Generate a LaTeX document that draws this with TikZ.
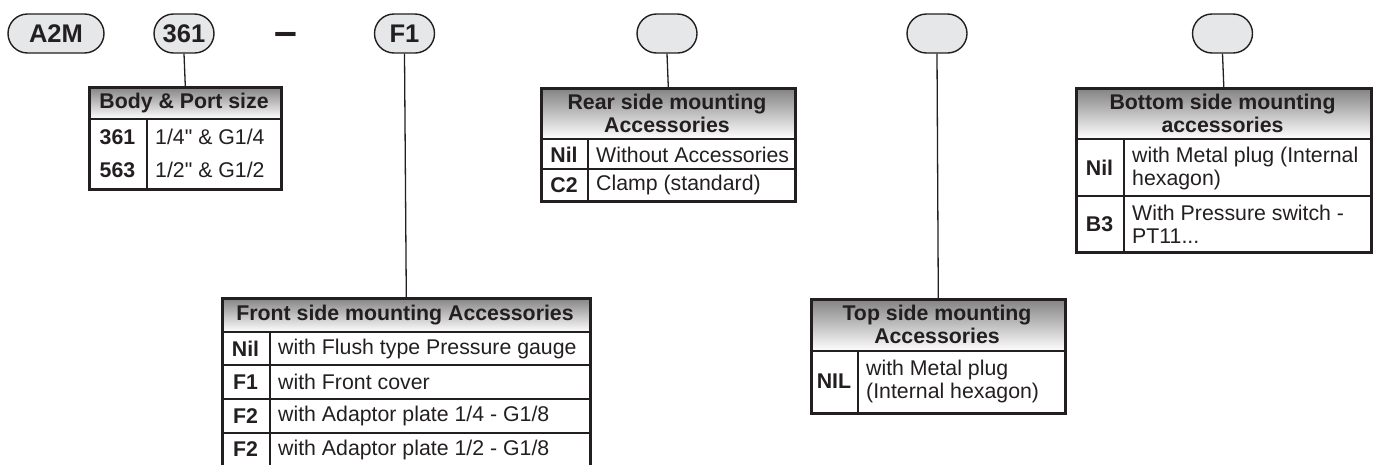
\documentclass[tikz,border=0pt]{standalone}
\usepackage{fontspec}
\setmainfont{Liberation Sans}
\usetikzlibrary{shapes.misc}
\definecolor{ink}{HTML}{231F20}
\definecolor{shade}{HTML}{E6E7E8}
\tikzset{
  pill/.style={draw=ink, fill=shade, rounded rectangle, line width=1.4pt,
    minimum height=39pt, inner sep=0pt, font=\fontsize{25.5}{28}\selectfont\bfseries, text=ink},
  tbl/.style={draw=ink, line width=2.6pt, rectangle, inner sep=0pt, anchor=north west},
  rule/.style={draw=ink, line width=1.3pt},
  conn/.style={draw=ink, line width=1.3pt},
  hdr/.style={font=\fontsize{21.3}{23}\selectfont\bfseries, text=ink, align=center, inner sep=0pt},
  code/.style={font=\fontsize{21.3}{23}\selectfont\bfseries, text=ink, inner sep=0pt},
  desc/.style={font=\fontsize{21.3}{23}\selectfont, text=ink, anchor=west, align=left, inner sep=0pt},
}
\begin{document}
\begin{tikzpicture}[x=1pt,y=-1pt]
\useasboundingbox (0,0) rectangle (1375,464);

% pills
\node[pill, minimum width=96pt] (pA) at (56,33.5) {A2M};
\node[pill, minimum width=60pt] (p361) at (184,33.5) {361};
\node[font=\fontsize{41}{41}\selectfont\bfseries, text=ink, inner sep=0pt, anchor=base] (dash) at (285.5,45) {–};
\node[pill, minimum width=60pt] (pF) at (404.5,33.5) {F1};
\node[pill, minimum width=60pt] (pR) at (667,33.5) {};
\node[pill, minimum width=60pt] (pT) at (937,33.5) {};
\node[pill, minimum width=60pt] (pB) at (1222.5,33.5) {};

% ---- Body & Port size
\fill[shade] (88,86) rectangle (280,119);
\draw[rule] (88,119) -- (280,119);
\draw[rule] (147,119) -- (147,188);
\node[tbl, minimum width=192pt, minimum height=102pt] (body) at (88,86) {};
\node[hdr] (bodyh) at (184,103) {Body \& Port size};
\node[code] (b1c) at (117.5,137) {361};
\node[desc] (b1d) at (155,137) {1/4\textquotedbl{} \& G1/4};
\node[code] (b2c) at (117.5,170) {563};
\node[desc] (b2d) at (155,170) {1/2\textquotedbl{} \& G1/2};

% ---- Rear
\fill[shade] (540,87) rectangle (794,139);
\draw[rule] (540,139) -- (794,139);
\draw[rule] (540,169) -- (794,169);
\draw[rule] (588,139) -- (588,200);
\node[tbl, minimum width=254pt, minimum height=113pt] (rear) at (540,87) {};
\node[hdr] (rearh) at (667,113) {Rear side mounting\\Accessories};
\node[code] (r1c) at (564,154.5) {Nil};
\node[desc] (r1d) at (596,154.5) {Without Accessories};
\node[code] (r2c) at (564,185) {C2};
\node[desc] (r2d) at (596,185) {Clamp (standard)};

% ---- Bottom
\fill[shade] (1075,87) rectangle (1370,139);
\draw[rule] (1075,139) -- (1370,139);
\draw[rule] (1075,196) -- (1370,196);
\draw[rule] (1124,139) -- (1124,251);
\node[tbl, minimum width=295pt, minimum height=164pt] (bot) at (1075,87) {};
\node[hdr] (both) at (1222.5,113) {Bottom side mounting\\accessories};
\node[code] (o1c) at (1099.5,168) {Nil};
\node[desc] (o1d) at (1132,168) {with Metal plug (Internal\\hexagon)};
\node[code] (o2c) at (1099.5,224) {B3};
\node[desc] (o2d) at (1132,224) {With Pressure switch -\\PT11...};

% ---- Front
\fill[shade] (221,297) rectangle (589,332);
\draw[rule] (221,332) -- (589,332);
\draw[rule] (221,365) -- (589,365);
\draw[rule] (221,399) -- (589,399);
\draw[rule] (221,433) -- (589,433);
\draw[rule] (270,332) -- (270,470);
\node[tbl, minimum width=368pt, minimum height=172pt] (front) at (221,297) {};
\node[hdr] (fronth) at (405,315) {Front side mounting Accessories};
\node[code] (f1c) at (245.5,348.5) {Nil};
\node[desc] (f1d) at (278,348.5) {with Flush type Pressure gauge};
\node[code] (f2c) at (245.5,382) {F1};
\node[desc] (f2d) at (278,382) {with Front cover};
\node[code] (f3c) at (245.5,416) {F2};
\node[desc] (f3d) at (278,416) {with Adaptor plate 1/4 - G1/8};
\node[code] (f4c) at (245.5,449.5) {F2};
\node[desc] (f4d) at (278,449.5) {with Adaptor plate 1/2 - G1/8};

% ---- Top
\fill[shade] (810,298) rectangle (1064,351);
\draw[rule] (810,351) -- (1064,351);
\draw[rule] (858,351) -- (858,412);
\node[tbl, minimum width=254pt, minimum height=114pt] (top) at (810,298) {};
\node[hdr] (toph) at (937,324.5) {Top side mounting\\Accessories};
\node[code] (t1c) at (834,381.5) {NIL};
\node[desc] (t1d) at (866,381.5) {with Metal plug\\(Internal hexagon)};

% connectors
\draw[conn] (p361.south) -- (body.north);
\draw[conn] (pF.south) -- (front.north);
\draw[conn] (pR.south) -- (rear.north);
\draw[conn] (pT.south) -- (top.north);
\draw[conn] (pB.south) -- (bot.north);
\end{tikzpicture}
\end{document}
